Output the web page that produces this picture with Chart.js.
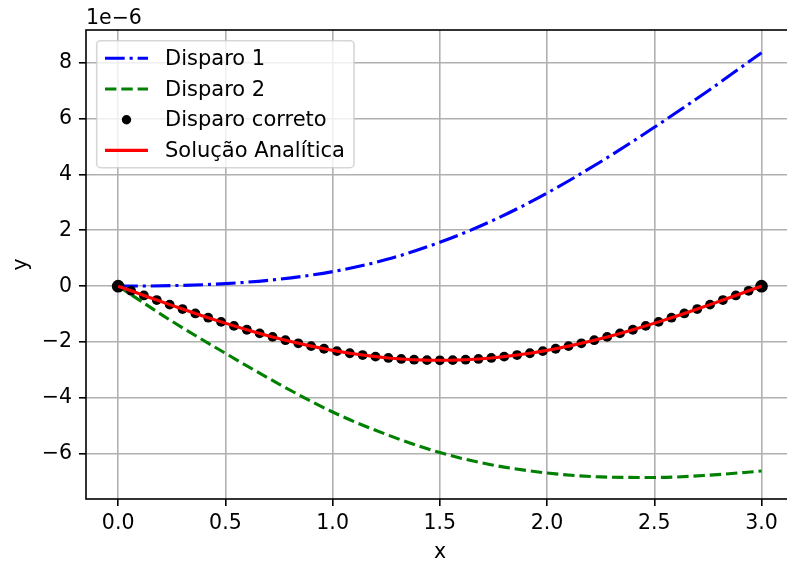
<!DOCTYPE html>
<html><head><meta charset="utf-8">
<script src="https://cdn.jsdelivr.net/npm/chart.js@4"></script>
<style>
html,body{margin:0;padding:0;overflow:hidden;background:#fff;width:787px;height:563px}
#wrap{width:800px;height:563px;position:relative}
</style></head>
<body><div id="wrap"><canvas id="c" width="800" height="563"></canvas></div>
<script>
// ---- data (values in units of 1e-6) ----
const xFine = [0, 0.06, 0.12, 0.18, 0.24, 0.3, 0.36, 0.42, 0.48, 0.54, 0.6, 0.66, 0.72, 0.78, 0.84, 0.9, 0.96,
  1.02, 1.08, 1.14, 1.2, 1.26, 1.32, 1.38, 1.44, 1.5, 1.56, 1.62, 1.68, 1.74, 1.8, 1.86, 1.92, 1.98,
  2.04, 2.1, 2.16, 2.22, 2.28, 2.34, 2.4, 2.46, 2.52, 2.58, 2.64, 2.7, 2.76, 2.82, 2.88, 2.94, 3.0];
const correctShot = [0, -0.166, -0.332, -0.497, -0.659, -0.819, -0.975, -1.128, -1.277, -1.420, -1.558,
  -1.689, -1.814, -1.932, -2.042, -2.144, -2.237, -2.322, -2.398, -2.464, -2.520, -2.567, -2.603, -2.629,
  -2.645, -2.650, -2.645, -2.629, -2.603, -2.567, -2.520, -2.464, -2.398, -2.322, -2.237, -2.144, -2.042,
  -1.932, -1.814, -1.689, -1.558, -1.420, -1.277, -1.128, -0.975, -0.819, -0.659, -0.497, -0.332, -0.166, 0];
const analytic = [0, -0.166, -0.332, -0.497, -0.659, -0.819, -0.975, -1.128, -1.277, -1.420, -1.558,
  -1.689, -1.814, -1.932, -2.042, -2.144, -2.237, -2.322, -2.398, -2.464, -2.520, -2.567, -2.603, -2.629,
  -2.645, -2.650, -2.645, -2.629, -2.603, -2.567, -2.520, -2.464, -2.398, -2.322, -2.237, -2.144, -2.042,
  -1.932, -1.814, -1.689, -1.558, -1.420, -1.277, -1.128, -0.975, -0.819, -0.659, -0.497, -0.332, -0.166, 0];
const xShot = [0, 0.25, 0.5, 0.75, 1.0, 1.25, 1.5, 1.75, 2.0, 2.25, 2.5, 2.75, 3.0];
const shot1 = [0, 0.02, 0.09, 0.25, 0.52, 0.95, 1.57, 2.36, 3.33, 4.45, 5.68, 6.98, 8.35];
const shot2 = [0, -1.25, -2.4, -3.5, -4.5, -5.3, -5.95, -6.4, -6.68, -6.82, -6.84, -6.76, -6.61];
const xTicks = [0, 0.5, 1.0, 1.5, 2.0, 2.5, 3.0];
const yTicks = [-6, -4, -2, 0, 2, 4, 6, 8];
const seriesLabels = ['Disparo 1', 'Disparo 2', 'Disparo correto', 'Solução Analítica'];
const xLabel = 'x', yLabel = 'y', offsetText = '1e\u22126';

// ---- styling ----
const FONT = '"DejaVu Sans", "Liberation Sans", sans-serif';
const FS = 20.5, LFS = 21;
const BLUE = '#0000ff', GREEN = '#008000', RED = '#ff0000';
const DASHDOT = [19.7, 4.9, 3.1, 4.9], DASHED = [11.4, 4.9];
Chart.defaults.font.family = FONT;
Chart.defaults.font.size = FS;
Chart.defaults.color = '#000';

const pts = (xs, ys) => xs.map((x, i) => ({x: x, y: ys[i]}));
const fmtMinus = v => (v < 0 ? '\u2212' : '') + Math.abs(v);

const overlay = {
  id: 'overlay',
  afterDatasetsDraw(chart) {
    const {ctx, chartArea: a} = chart;
    ctx.save();
    ctx.strokeStyle = '#000';
    ctx.lineWidth = 1.6;
    ctx.strokeRect(a.left, a.top, a.right - a.left, a.bottom - a.top);
    ctx.restore();
  },
  afterDraw(chart) {
    const ctx = chart.ctx;
    ctx.save();
    ctx.fillStyle = '#000';
    ctx.font = FS + 'px ' + FONT;
    ctx.textBaseline = 'alphabetic';
    ctx.textAlign = 'left';
    ctx.fillText(offsetText, 86, 24);
    ctx.textAlign = 'center';
    ctx.fillText(xLabel, 440, 558);
    ctx.save();
    ctx.translate(27, 264.5);
    ctx.rotate(-Math.PI / 2);
    ctx.fillText(yLabel, 0, 0);
    ctx.restore();

    // legend (matplotlib style)
    const bx = 96.7, by = 40.7, bw = 257.3, bh = 127, r = 4;
    ctx.beginPath();
    ctx.moveTo(bx + r, by);
    ctx.arcTo(bx + bw, by, bx + bw, by + bh, r);
    ctx.arcTo(bx + bw, by + bh, bx, by + bh, r);
    ctx.arcTo(bx, by + bh, bx, by, r);
    ctx.arcTo(bx, by, bx + bw, by, r);
    ctx.closePath();
    ctx.fillStyle = 'rgba(255,255,255,0.8)';
    ctx.fill();
    ctx.strokeStyle = 'rgba(204,204,204,0.8)';
    ctx.lineWidth = 1.6;
    ctx.stroke();

    ctx.font = LFS + 'px ' + FONT;
    const base0 = 65, step = 30.7;
    const styles = [
      {type: 'line', color: BLUE, dash: DASHDOT},
      {type: 'line', color: GREEN, dash: DASHED},
      {type: 'dot', color: '#000'},
      {type: 'line', color: RED, dash: []}
    ];
    seriesLabels.forEach((lab, i) => {
      const base = base0 + step * i;
      const cy = base - 6.7;
      const s = styles[i];
      if (s.type === 'line') {
        ctx.beginPath();
        ctx.setLineDash(s.dash);
        ctx.strokeStyle = s.color;
        ctx.lineWidth = 3.1;
        ctx.moveTo(105, cy);
        ctx.lineTo(148, cy);
        ctx.stroke();
        ctx.setLineDash([]);
      } else {
        ctx.beginPath();
        ctx.fillStyle = s.color;
        ctx.arc(126.5, cy, 4.7, 0, Math.PI * 2);
        ctx.fill();
      }
      ctx.fillStyle = '#000';
      ctx.textAlign = 'left';
      ctx.textBaseline = 'alphabetic';
      ctx.fillText(lab, 165, base);
    });
    ctx.restore();
  }
};

new Chart(document.getElementById('c'), {
  type: 'line',
  data: {
    datasets: [
      {label: seriesLabels[0], data: pts(xShot, shot1), borderColor: BLUE, borderWidth: 3.1,
       borderDash: DASHDOT, pointRadius: 0, cubicInterpolationMode: 'monotone', fill: false, order: 4},
      {label: seriesLabels[1], data: pts(xShot, shot2), borderColor: GREEN, borderWidth: 3.1,
       borderDash: DASHED, pointRadius: 0, cubicInterpolationMode: 'monotone', fill: false, order: 3},
      {label: seriesLabels[2], data: pts(xFine, correctShot), showLine: false,
       pointRadius: xFine.map((_, i) => (i === 0 || i === xFine.length - 1) ? 6.3 : 4.9),
       pointBackgroundColor: '#000', pointBorderWidth: 0, borderColor: '#000', order: 2},
      {label: seriesLabels[3], data: pts(xFine, analytic), borderColor: RED, borderWidth: 3.1,
       pointRadius: 0, tension: 0, fill: false, order: 1}
    ]
  },
  options: {
    responsive: false,
    animation: false,
    devicePixelRatio: 1,
    layout: {padding: {left: 0, top: 30, right: 6, bottom: 0}},
    plugins: {legend: {display: false}, tooltip: {enabled: false}},
    scales: {
      x: {
        type: 'linear', min: -0.15, max: 3.15,
        afterBuildTicks: s => { s.ticks = xTicks.map(v => ({value: v})); },
        afterFit: s => { s.height = 64; },
        ticks: {callback: v => v.toFixed(1), padding: 5, maxRotation: 0, autoSkip: false,
                font: {size: FS}, color: '#000'},
        grid: {color: '#b0b0b0', lineWidth: 1.6, tickColor: '#000', tickWidth: 1.6, tickLength: 7,
               drawTicks: true},
        border: {display: false}
      },
      y: {
        type: 'linear', min: -7.61, max: 9.16,
        afterBuildTicks: s => { s.ticks = yTicks.map(v => ({value: v})); },
        afterFit: s => { s.width = 86; },
        ticks: {callback: v => fmtMinus(v), padding: 7, autoSkip: false, font: {size: FS}, color: '#000'},
        grid: {color: '#b0b0b0', lineWidth: 1.6, tickColor: '#000', tickWidth: 1.6, tickLength: 7,
               drawTicks: true},
        border: {display: false}
      }
    }
  },
  plugins: [overlay]
});
</script>
</body></html>
